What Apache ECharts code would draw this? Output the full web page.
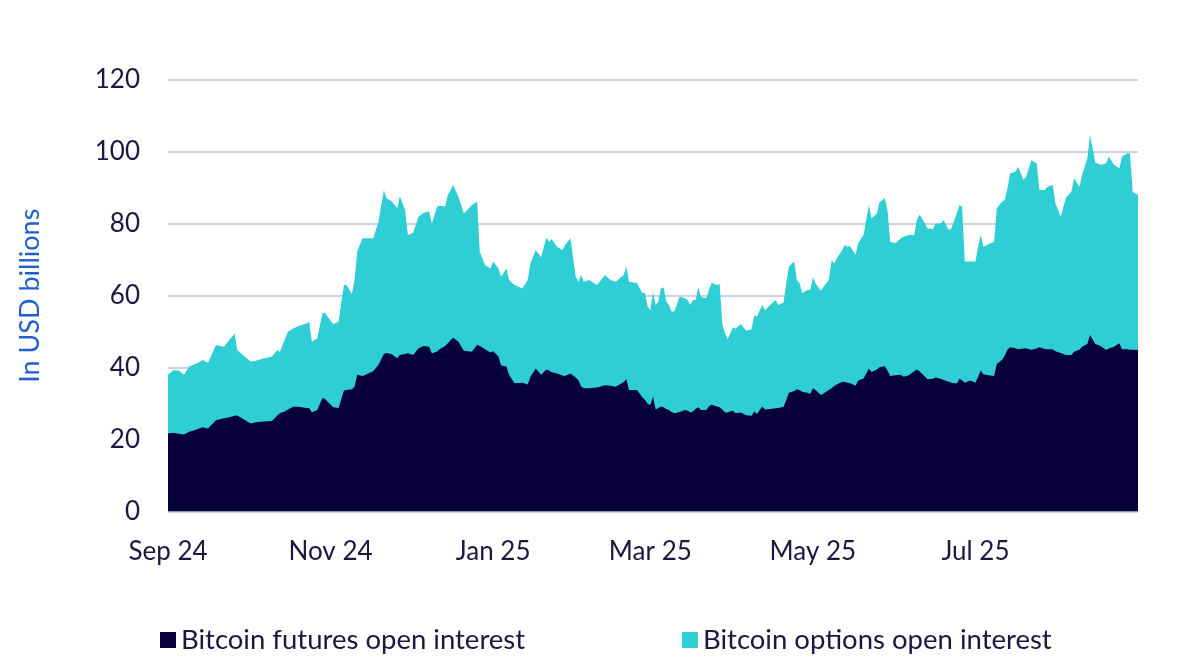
<!DOCTYPE html>
<html>
<head>
<meta charset="utf-8">
<title>Bitcoin open interest</title>
<script src="https://cdn.jsdelivr.net/npm/echarts@6/dist/echarts.min.js"></script>
<style>
  html, body { margin: 0; padding: 0; background: #fff; }
  #chart { width: 1200px; height: 659px; }
</style>
</head>
<body>
<div id="chart"></div>
<script>
// dates (Sep 2024 - Aug 2025)
const dates = [
  '2024-09-01','2024-09-03','2024-09-05','2024-09-07','2024-09-09','2024-09-12','2024-09-14','2024-09-16','2024-09-19','2024-09-22',
  '2024-09-24','2024-09-26','2024-09-27','2024-10-02','2024-10-04','2024-10-07','2024-10-10','2024-10-12','2024-10-13','2024-10-15',
  '2024-10-16','2024-10-18','2024-10-20','2024-10-23','2024-10-24','2024-10-25','2024-10-27','2024-10-29','2024-10-30','2024-11-02',
  '2024-11-04','2024-11-06','2024-11-07','2024-11-09','2024-11-10','2024-11-11','2024-11-13','2024-11-17','2024-11-19','2024-11-21',
  '2024-11-22','2024-11-24','2024-11-26','2024-11-27','2024-11-29','2024-11-30','2024-12-02','2024-12-04','2024-12-06','2024-12-08',
  '2024-12-09','2024-12-11','2024-12-12','2024-12-14','2024-12-15','2024-12-17','2024-12-19','2024-12-21','2024-12-24','2024-12-26',
  '2024-12-27','2024-12-29','2024-12-31','2025-01-01','2025-01-03','2025-01-04','2025-01-06','2025-01-07','2025-01-09','2025-01-12',
  '2025-01-14','2025-01-15','2025-01-17','2025-01-19','2025-01-21','2025-01-22','2025-01-23','2025-01-25','2025-01-27','2025-01-28',
  '2025-01-30','2025-02-01','2025-02-02','2025-02-03','2025-02-04','2025-02-06','2025-02-09','2025-02-12','2025-02-14','2025-02-16',
  '2025-02-19','2025-02-20','2025-02-21','2025-02-24','2025-02-26','2025-02-27','2025-02-28','2025-03-01','2025-03-02','2025-03-03',
  '2025-03-04','2025-03-05','2025-03-06','2025-03-07','2025-03-08','2025-03-09','2025-03-10','2025-03-12','2025-03-14','2025-03-15',
  '2025-03-16','2025-03-17','2025-03-18','2025-03-19','2025-03-20','2025-03-22','2025-03-23','2025-03-24','2025-03-26','2025-03-27',
  '2025-03-28','2025-03-29','2025-03-30','2025-03-31','2025-04-01','2025-04-02','2025-04-04','2025-04-06','2025-04-08','2025-04-09',
  '2025-04-10','2025-04-12','2025-04-13','2025-04-15','2025-04-17','2025-04-18','2025-04-20','2025-04-21','2025-04-22','2025-04-24',
  '2025-04-25','2025-04-26','2025-04-27','2025-04-29','2025-04-30','2025-05-01','2025-05-02','2025-05-04','2025-05-05','2025-05-07',
  '2025-05-08','2025-05-09','2025-05-10','2025-05-12','2025-05-13','2025-05-14','2025-05-15','2025-05-17','2025-05-18','2025-05-20',
  '2025-05-21','2025-05-22','2025-05-23','2025-05-25','2025-05-26','2025-05-28','2025-05-29','2025-05-30','2025-06-01','2025-06-03',
  '2025-06-04','2025-06-06','2025-06-08','2025-06-09','2025-06-10','2025-06-11','2025-06-13','2025-06-15','2025-06-16','2025-06-18',
  '2025-06-19','2025-06-21','2025-06-22','2025-06-24','2025-06-25','2025-06-26','2025-06-27','2025-06-29','2025-07-01','2025-07-02',
  '2025-07-03','2025-07-04','2025-07-06','2025-07-08','2025-07-09','2025-07-11','2025-07-12','2025-07-13','2025-07-14','2025-07-16',
  '2025-07-17','2025-07-19','2025-07-20','2025-07-22','2025-07-24','2025-07-25','2025-07-27','2025-07-28','2025-07-30','2025-07-31',
  '2025-08-02','2025-08-04','2025-08-06','2025-08-07','2025-08-09','2025-08-10','2025-08-12','2025-08-13','2025-08-15','2025-08-17',
  '2025-08-19','2025-08-20','2025-08-22','2025-08-24','2025-08-25','2025-08-27','2025-08-28','2025-08-29','2025-08-31'
];

// USD billions
const futuresOI = [
  21.7,21.9,21.6,21.4,22.2,22.9,23.4,23.1,25.4,25.9,
  26.2,26.6,26.7,24.5,24.8,25.0,25.2,26.7,27.3,27.9,
  28.4,29.1,29.1,28.8,28.7,27.6,28.2,31.6,31.2,29.0,
  28.8,33.6,33.8,34.0,34.7,38.0,37.7,39.0,40.8,43.8,
  44.1,43.7,42.6,43.5,43.8,44.0,43.5,45.4,46.0,45.8,
  44.0,44.5,45.2,46.0,46.8,48.3,47.2,44.7,44.4,46.4,
  46.0,45.1,44.2,44.6,43.1,40.6,40.3,38.0,35.7,35.8,
  35.3,37.5,39.8,38.0,39.5,39.2,38.7,38.4,37.8,37.7,
  38.4,37.3,36.5,34.8,34.3,34.3,34.5,35.1,35.0,34.7,
  36.0,36.8,33.8,33.8,31.8,31.0,30.0,29.6,31.9,28.4,
  28.8,29.2,29.0,28.5,28.2,27.7,27.3,27.7,28.2,28.0,
  27.6,27.8,28.6,29.0,28.2,28.2,29.3,29.7,29.2,29.0,
  28.4,27.5,27.5,27.9,28.0,27.3,27.5,26.8,26.6,27.8,
  27.1,29.2,28.4,28.5,28.7,28.8,29.1,31.0,33.0,33.5,
  34.0,33.7,33.3,33.0,32.7,34.3,33.8,32.4,32.8,33.8,
  34.3,34.9,35.3,36.1,36.0,35.8,35.7,35.0,36.4,37.0,
  38.3,39.8,38.8,39.5,40.1,40.4,39.2,37.7,37.9,38.0,
  37.5,37.9,39.0,39.5,39.0,38.3,36.8,36.9,37.3,36.9,
  36.6,36.1,35.8,35.6,36.9,36.5,35.8,36.4,35.8,37.5,
  39.2,38.2,37.9,37.7,41.0,42.2,43.4,45.0,45.7,45.4,
  45.1,45.3,45.4,45.0,45.3,45.7,45.2,45.1,45.1,44.6,
  44.1,43.5,43.5,44.4,45.0,45.8,46.6,49.1,46.6,46.0,
  44.9,45.3,45.8,46.8,45.1,45.1,45.0,45.0,44.9
];

const optionsOI = [
  16.3,17.4,17.6,16.6,18.1,18.3,18.7,18.3,20.9,19.9,
  21.5,22.8,18.2,17.2,17.1,17.6,17.9,18.2,17.1,20.3,
  21.6,21.8,22.5,23.5,24.1,19.6,20.0,23.7,23.9,23.1,
  24.0,29.4,29.2,26.5,29.7,34.3,38.3,37.0,39.8,45.6,
  43.0,42.5,41.7,44.2,40.0,32.9,34.0,36.6,37.1,37.6,
  36.1,40.3,39.8,38.8,41.2,42.5,40.3,38.2,40.8,39.8,
  26.2,23.4,23.4,24.9,24.5,24.7,27.3,26.4,27.3,26.3,
  29.1,31.5,32.9,32.7,36.7,35.8,37.0,35.2,34.9,36.4,
  37.6,28.0,27.4,31.0,29.6,30.1,28.5,30.7,29.4,29.2,
  29.8,31.3,30.1,29.7,28.9,29.8,27.0,26.4,29.2,29.0,
  29.5,32.9,33.3,29.8,29.2,27.9,28.3,32.0,31.1,30.8,
  29.8,31.0,30.2,33.3,31.5,31.1,32.3,33.9,33.8,34.3,
  23.9,22.1,20.4,21.7,23.2,23.6,24.6,23.5,24.1,26.8,
  27.1,28.2,27.6,28.9,30.1,28.6,29.0,32.5,35.1,36.0,
  30.4,29.8,27.4,28.6,28.9,30.8,29.7,29.0,29.7,30.6,
  35.6,34.1,35.1,36.6,38.1,37.8,38.1,36.3,38.2,39.9,
  42.8,45.4,42.7,43.4,45.9,46.7,44.6,37.3,36.7,38.0,
  38.9,39.0,37.9,41.6,43.5,43.2,42.0,41.6,42.8,43.2,
  44.5,42.2,43.0,47.3,48.3,48.3,33.7,33.1,33.7,36.1,
  37.7,35.4,36.5,37.3,43.3,44.0,43.2,44.9,48.3,49.1,
  50.8,46.9,47.7,52.7,51.5,43.7,44.2,45.2,45.7,41.1,
  37.9,43.8,45.4,48.3,45.3,47.8,51.6,55.6,50.4,50.4,
  51.9,53.4,50.6,48.6,53.6,54.5,54.6,43.9,43.1
];

const tickDates = ['2024-09-01','2024-11-01','2025-01-01','2025-03-01','2025-05-01','2025-07-01'];
const monthNames = ['Jan','Feb','Mar','Apr','May','Jun','Jul','Aug','Sep','Oct','Nov','Dec'];
const yTicks = { min: 0, max: 120, step: 20 };

function toTime(s) {
  const p = s.split('-');
  return Date.UTC(+p[0], +p[1] - 1, +p[2]);
}

// options sit on top of futures, so stack them by hand
const futuresPts = dates.map((d, i) => [toTime(d), futuresOI[i]]);
const stackedPts = dates.map((d, i) => [toTime(d), +(futuresOI[i] + optionsOI[i]).toFixed(1)]);

const chart = echarts.init(document.getElementById('chart'));
const font = 'Lato, "Noto Sans", sans-serif';
const ink = '#1a1840';
const navy = '#08003a';
const teal = '#2fced5';

const legendText = { fontFamily: font, fontSize: 27.5, color: ink, lineHeight: 30 };

chart.setOption({
  animation: false,
  grid: { left: 168, right: 62, top: 80, bottom: 147.5, containLabel: false },
  legend: [
    {
      data: [{ name: 'Bitcoin futures open interest', itemStyle: { color: navy } }],
      left: 155, top: 620,
      icon: 'rect', itemWidth: 16, itemHeight: 16, itemGap: 8,
      textStyle: legendText
    },
    {
      data: [{ name: 'Bitcoin options open interest', itemStyle: { color: teal } }],
      left: 677, top: 620,
      icon: 'rect', itemWidth: 16, itemHeight: 16, itemGap: 8,
      textStyle: legendText
    }
  ],
  xAxis: {
    type: 'value',
    min: toTime(dates[0]),
    max: toTime(dates[dates.length - 1]),
    axisLine: { show: false },
    axisTick: { show: false },
    splitLine: { show: false },
    axisLabel: {
      customValues: tickDates.map(toTime),
      fontFamily: font, fontSize: 26, color: ink, margin: 27,
      formatter: function (v) {
        const d = new Date(v);
        return monthNames[d.getUTCMonth()] + ' ' + String(d.getUTCFullYear()).slice(2);
      }
    }
  },
  yAxis: {
    type: 'value',
    min: yTicks.min, max: yTicks.max, interval: yTicks.step,
    name: 'In USD billions',
    nameLocation: 'middle',
    nameGap: 124,
    nameTextStyle: { fontFamily: font, fontSize: 27, color: '#1f5fcf' },
    axisLine: { show: false },
    axisTick: { show: false },
    axisLabel: { fontFamily: font, fontSize: 26, color: ink, margin: 28 },
    splitLine: { lineStyle: { color: '#b7c4d3', width: 1.5 } }
  },
  series: [
    {
      name: 'Bitcoin options open interest',
      type: 'line', z: 2,
      data: stackedPts,
      symbol: 'none', lineStyle: { width: 0 },
      itemStyle: { color: teal },
      areaStyle: { color: teal, opacity: 1 }
    },
    {
      name: 'Bitcoin futures open interest',
      type: 'line', z: 3,
      data: futuresPts,
      symbol: 'none', lineStyle: { width: 0 },
      itemStyle: { color: navy },
      areaStyle: { color: navy, opacity: 1 }
    }
  ]
});
</script>
</body>
</html>
